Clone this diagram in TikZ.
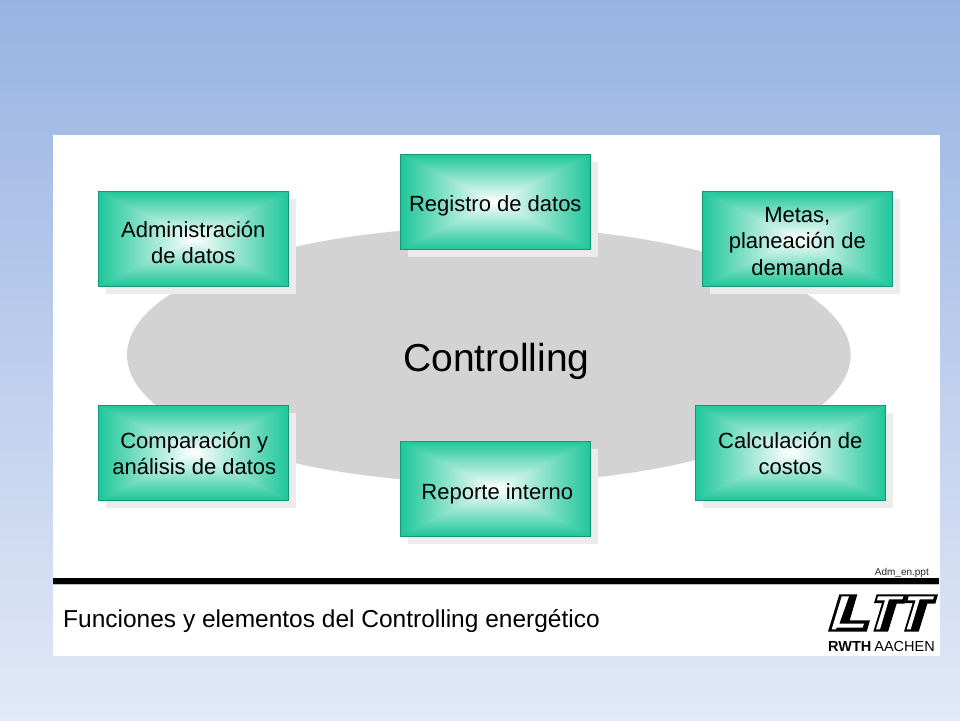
\documentclass[tikz,border=0pt]{standalone}
\usepackage{fontspec}
\setmainfont{Liberation Sans}
\usetikzlibrary{shadows}
\definecolor{bgtop}{RGB}{152,179,226}
\definecolor{bgbot}{RGB}{226,233,247}
\definecolor{ell}{RGB}{211,211,211}
\definecolor{shad}{RGB}{236,236,236}
\definecolor{boxedge}{RGB}{20,150,120}
\pgfdeclarefunctionalshading{rectglow}{\pgfpoint{-50bp}{-50bp}}{\pgfpoint{50bp}{50bp}}{}{
abs exch abs 2 copy lt {exch} if pop 25 div
dup dup -0.40 mul 1 add 3 1 roll
-0.22 mul 1 add exch
-0.88 mul 1 add
3 1 roll exch
}
\tikzset{
  x=1pt,y=-1pt,
  greenbox/.style={shape=rectangle,minimum width=190pt,minimum height=94.5pt,inner sep=0pt,
    shading=rectglow,draw=boxedge,line width=0.5pt,
    general shadow={fill=shad,shadow xshift=8pt,shadow yshift=-8pt}},
  lbl/.style={font=\fontsize{22}{26.7}\selectfont,align=center,text=black,inner sep=0pt},
  logoblack/.style={fill=black,draw=none},
  logowhite/.style={fill=white,draw=none},
}
\begin{document}
\begin{tikzpicture}
\useasboundingbox (0,0) rectangle (960,720);
\shade[top color=bgtop,bottom color=bgbot,draw=none] (0,0) rectangle (960,720);
\fill[white] (53,135) rectangle (940,656);
\fill[ell] (488.8,355) ellipse [x radius=361.8,y radius=128];
\node[font=\fontsize{39}{43}\selectfont,text=black,inner sep=0pt] (core) at (496.5,361) {Controlling};
\node[greenbox,label={[lbl,yshift=-4pt]center:Administración\\de datos}] (admin) at (193.3,238.5) {};
\node[greenbox,label={[lbl,yshift=-4.5pt]center:Registro de datos}] (reg) at (495.3,201.5) {};
\node[greenbox,label={[lbl,yshift=-3pt]center:Metas,\\planeación de\\demanda}] (metas) at (797.3,238.5) {};
\node[greenbox,label={[lbl,yshift=-1pt,xshift=1pt]center:Comparación y\\análisis de datos}] (comp) at (193.3,452.5) {};
\node[greenbox,label={[lbl,yshift=-5pt,xshift=2pt]center:Reporte interno}] (rep) at (495.3,488.5) {};
\node[greenbox,label={[lbl,yshift=-1pt]center:Calculación de\\costos}] (calc) at (790.3,452.5) {};
\fill[black] (53,578) rectangle (939,584);
\fill[black!25] (53,584) rectangle (939,585);
\node[anchor=base east,font=\fontsize{10}{11}\selectfont,inner sep=0pt,text=black!85] (file) at (929,575) {Adm\_en.ppt};
\node[anchor=base west,font=\fontsize{24.5}{28}\selectfont,inner sep=0pt,text=black] (title) at (63,627) {Funciones y elementos del Controlling energético};
\begin{scope}[shift={(820,585)},x=0.3333pt,y=-0.3333pt]
\fill[logoblack] (24,140) -- (58,28) -- (112,28) -- (89,106) -- (150,106) -- (140,140) -- cycle;
\fill[logowhite] (35,133) -- (65,34) -- (87,34) -- (58,116) -- (132,116) -- (128,128) -- (50,128) -- (48,133) -- cycle;
\foreach \dx in {0,92}{
\begin{scope}[xshift=\dx*0.3333pt]
\fill[logoblack] (170,28) -- (262,28) -- (254,56) -- (230,56) -- (204,140) -- (160,140) -- (186,54) -- (162,54) -- cycle;
\fill[logowhite] (174,34) -- (250,34) -- (247,43) -- (207,43) -- (180,133) -- (168,133) -- (195,46) -- (171,46) -- cycle;
\end{scope}}
\end{scope}
\node[anchor=base west,font=\fontsize{14.5}{16}\bfseries\selectfont,inner sep=0pt,text=black] (rwth) at (828,651) {RWTH};
\node[anchor=base east,font=\fontsize{14.5}{16}\selectfont,inner sep=0pt,text=black] (aachen) at (935,651) {AACHEN};
\end{tikzpicture}
\end{document}
